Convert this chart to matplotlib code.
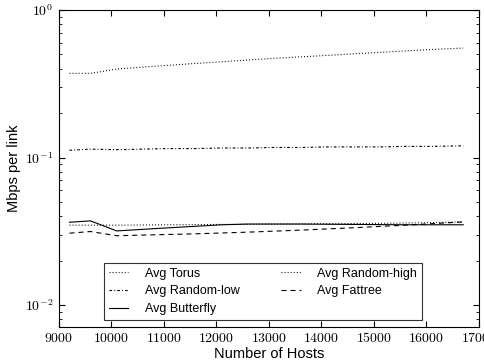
import numpy as np
import matplotlib
matplotlib.use("Agg")
import matplotlib.pyplot as plt
from matplotlib.ticker import FuncFormatter, LogLocator

# Hosts on the x axis
hosts = [9200, 9600, 10100, 10600, 11100, 11600, 12100, 12600, 13100,
         13600, 14100, 14600, 15100, 15600, 16100, 16700]

# Average Mbps per link for each topology
torus = [0.372, 0.372, 0.398, 0.410, 0.422, 0.434, 0.446, 0.458, 0.470,
         0.481, 0.492, 0.504, 0.516, 0.528, 0.540, 0.552]
random_low = [0.112, 0.114, 0.113, 0.114, 0.115, 0.115, 0.116, 0.116, 0.117,
              0.117, 0.118, 0.118, 0.118, 0.119, 0.119, 0.120]
butterfly = [0.0364, 0.0372, 0.0318, 0.0326, 0.0334, 0.0342, 0.0350, 0.0354,
             0.0354, 0.0354, 0.0353, 0.0352, 0.0351, 0.0350, 0.0350, 0.0350]
random_high = [0.0348, 0.0348, 0.0348, 0.0349, 0.0350, 0.0351, 0.0352, 0.0353,
               0.0354, 0.0355, 0.0356, 0.0357, 0.0358, 0.0360, 0.0362, 0.0366]
fattree = [0.0307, 0.0315, 0.0295, 0.0298, 0.0301, 0.0304, 0.0308, 0.0312,
           0.0317, 0.0322, 0.0328, 0.0334, 0.0341, 0.0348, 0.0356, 0.0366]

plt.rcParams['mathtext.fontset'] = 'cm'
plt.rcParams['font.family'] = ['Liberation Sans', 'DejaVu Sans']
plt.rcParams['lines.scale_dashes'] = False

dotted = (0, (0.7, 1.5))
dashdot = (0, (1.9, 1.5, 0.7, 1.5))
dashed = (0, (3.6, 2.9))

fig = plt.figure(figsize=(4.85, 3.62), dpi=100)
ax = fig.add_axes([0.1216, 0.0967, 0.866, 0.8757])

lw = 0.8
ax.plot(hosts, torus, linestyle=dotted, color='black', lw=lw, label='Avg Torus')
ax.plot(hosts, random_low, linestyle=dashdot, color='black', lw=lw, label='Avg Random-low')
ax.plot(hosts, butterfly, '-', color='black', lw=lw, label='Avg Butterfly')
ax.plot(hosts, random_high, linestyle=dotted, color='black', lw=lw, label='Avg Random-high')
ax.plot(hosts, fattree, linestyle=dashed, color='black', lw=lw, label='Avg Fattree')

ax.set_yscale('log')
ax.set_xlim(9000, 17000)
ax.set_ylim(0.0071, 1)
ax.set_xticks(np.arange(9000, 17001, 1000))
ax.xaxis.set_major_formatter(FuncFormatter(lambda v, p: r'$%d$' % v))
ax.yaxis.set_major_locator(LogLocator(base=10))
ax.yaxis.set_major_formatter(FuncFormatter(lambda v, p: r'$10^{%d}$' % round(np.log10(v))))
ax.tick_params(which='both', direction='in', top=True, right=True, labelsize=10)
ax.tick_params(which='major', length=4)
ax.tick_params(which='minor', length=2)
ax.tick_params(axis='x', pad=3)
ax.tick_params(axis='y', pad=4)

ax.set_xlabel('Number of Hosts', fontsize=10.5, labelpad=1)
ax.set_ylabel('Mbps per link', fontsize=10.5, labelpad=3)

leg = ax.legend(loc='lower left', ncol=2, fontsize=9, handlelength=1.55,
                handletextpad=1.3, mode='expand', fancybox=False,
                borderaxespad=0, labelspacing=0.45,
                bbox_to_anchor=(0.107, 0.022, 0.757, 0.2))
leg.get_frame().set_edgecolor('black')
leg.get_frame().set_linewidth(0.8)

fig.savefig('out.png', dpi=100)
